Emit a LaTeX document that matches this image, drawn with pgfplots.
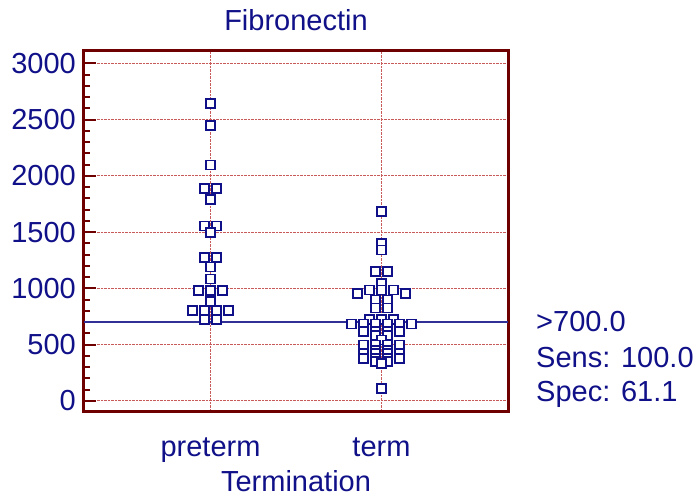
\documentclass[border=0pt]{standalone}
\usepackage{fontspec}
\setmainfont{Liberation Sans}
\usepackage{pgfplots}
\pgfplotsset{compat=1.18}
\definecolor{navy}{RGB}{16,16,136}
\definecolor{maroon}{RGB}{110,0,0}
\definecolor{gridred}{RGB}{200,90,90}
\definecolor{linecol}{RGB}{48,48,150}
\begin{document}
\fontsize{29}{34}\selectfont
\begin{tikzpicture}
\useasboundingbox (0,0) rectangle (696pt,497pt);
\begin{axis}[
 at={(84pt,85pt)}, anchor=south west,
 scale only axis, width=424pt, height=361pt,
 xmin=0.26, xmax=2.74, ymin=-100, ymax=3110,
 xtick={1,2}, xticklabels={preterm,term},
 ytick={0,500,1000,1500,2000,2500,3000},
 minor y tick num=4,
 ytick pos=left, tick align=inside,
 major tick length=12pt, minor tick length=6pt,
 y tick style={maroon, line width=2pt},
 x tick style={draw=none},
 xmajorgrids, ymajorgrids,
 major grid style={densely dotted, gridred, line width=1pt},
 axis line style={maroon, line width=3pt},
 tick label style={font=\fontsize{29}{34}\selectfont, text=navy},
 /pgf/number format/assume math mode=true,
 /pgf/number format/1000 sep={},
 yticklabel style={anchor=east, inner sep=0pt, xshift=-8pt},
 xticklabel style={anchor=base, inner sep=0pt, yshift=-44.7pt},
 xlabel={Termination},
 xlabel style={at={(axis description cs:0.5,0)}, anchor=base, inner sep=0pt, yshift=-80pt, text=navy, font=\fontsize{29}{34}\selectfont},
 title={Fibronectin},
 title style={at={(axis description cs:0.5,1)}, anchor=base, inner sep=0pt, yshift=14pt, text=navy, font=\fontsize{29}{34}\selectfont},
]
\addplot[linecol, line width=1.5pt] coordinates {(0.26,700) (2.74,700)};
\addplot[only marks, mark=square*, mark size=4.5pt, mark options={draw=navy, fill=white, line width=1.8pt}] coordinates {
(1,2644) (1,2445) (1,2096) (0.965,1888) (1.035,1888) (1,1793)
(0.965,1553) (1.035,1553) (1,1494) (0.965,1275) (1.035,1275) (1,1189)
(1,1082) (0.93,978) (1,978) (1.07,978) (1,886)
(0.895,804) (0.965,804) (1.035,804) (1.105,804) (0.965,724) (1.035,724)
};
\addplot[only marks, mark=square*, mark size=4.5pt, mark options={draw=navy, fill=white, line width=1.8pt}] coordinates {
(2,1680) (2,1399) (2,1340) (1.965,1147) (2.035,1147) (2,1044)
(1.86,955) (2.14,955) (1.93,984) (2,984) (2.07,984)
(1.965,895) (2.035,895) (1.965,825) (2.035,825)
(1.93,726) (2,726) (2.07,726)
(1.825,682) (1.895,682) (1.965,682) (2.035,682) (2.105,682) (2.175,682)
(1.895,613) (1.965,613) (2.035,613) (2.105,613)
(1.965,580) (2.035,580) (2,540)
(1.895,495) (1.965,495) (2.035,495) (2.105,495)
(1.965,445) (2.035,445)
(1.895,420) (1.965,420) (2.035,420) (2.105,420)
(1.895,377) (1.965,377) (2.035,377) (2.105,377)
(1.965,350) (2.035,350) (2,330) (2,110)
};
\end{axis}
\node[anchor=base west, text=navy, inner sep=0pt] at (536pt,165.3pt) {>700.0};
\node[anchor=base west, text=navy, inner sep=0pt] at (536pt,129.3pt) {Sens: 100.0};
\node[anchor=base west, text=navy, inner sep=0pt] at (536pt,95.3pt) {Spec: 61.1};
\end{tikzpicture}
\end{document}
